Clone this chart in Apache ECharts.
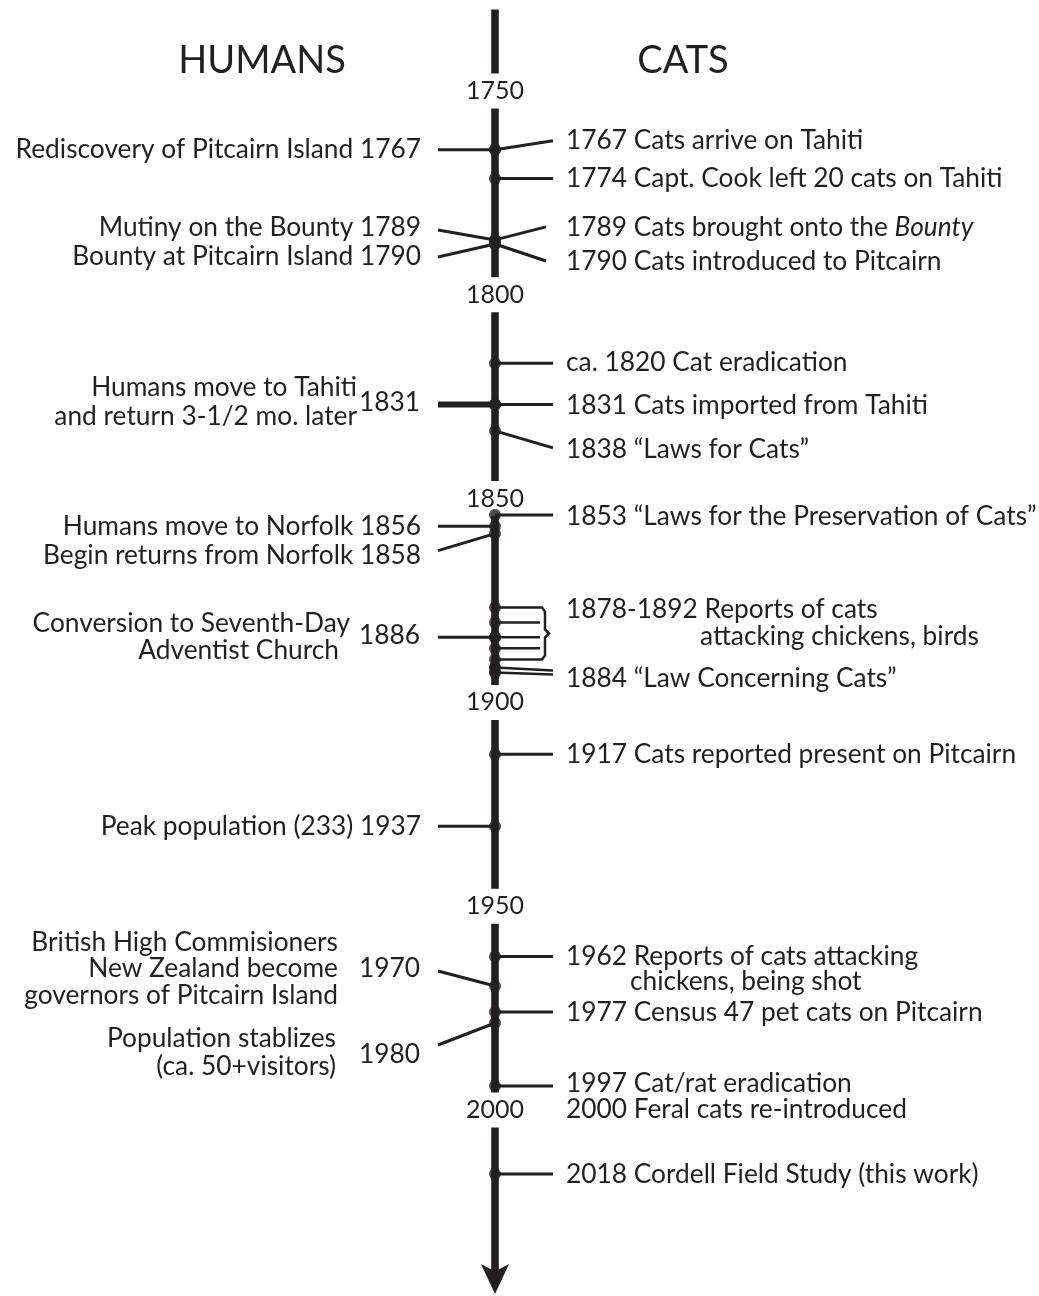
<!DOCTYPE html>
<html>
<head>
<meta charset="utf-8">
<script src="https://cdn.jsdelivr.net/npm/echarts@6/dist/echarts.min.js"></script>
<style>
  html, body { margin: 0; padding: 0; background: #fff; }
  #chart { width: 1039px; height: 1296px; }
</style>
</head>
<body>
<div id="chart"></div>
<script>
// 时间轴刻度
const decades = [1750, 1800, 1850, 1900, 1950, 2000]

// 左侧: 人类事件
const humanYears = [1767, 1789, 1790, 1831, 1856, 1858, 1886, 1937, 1970, 1980]
const humanEvents = [
    'Rediscovery of Pitcairn Island',
    'Mutiny on the Bounty',
    'Bounty at Pitcairn Island',
    'Humans move to Tahiti\nand return 3-1/2 mo. later',
    'Humans move to Norfolk',
    'Begin returns from Norfolk',
    'Conversion to Seventh-Day\nAdventist Church',
    'Peak population (233)',
    'British High Commisioners\nNew Zealand become\ngovernors of Pitcairn Island',
    'Population stablizes\n(ca. 50+visitors)'
]

// 右侧: 猫的事件
const catYears = [1767, 1774, 1789, 1790, 1820, 1831, 1838, 1853, 1917, 1962, 1977, 1997, 2000, 2018]
const catEvents = [
    '1767 Cats arrive on Tahiti',
    '1774 Capt. Cook left 20 cats on Tahiti',
    '1789 Cats brought onto the {i|Bounty}',
    '1790 Cats introduced to Pitcairn',
    'ca. 1820 Cat eradication',
    '1831 Cats imported from Tahiti',
    '1838 \u201cLaws for Cats\u201d',
    '1853 \u201cLaws for the Preservation of Cats\u201d',
    '1917 Cats reported present on Pitcairn',
    '1962 Reports of cats attacking\nchickens, being shot',
    '1977 Census 47 pet cats on Pitcairn',
    '1997 Cat/rat eradication',
    '2000 Feral cats re-introduced',
    '2018 Cordell Field Study (this work)'
]
// 1878-1892 的报告 (括号) 和 1884 的法律
const reportYears = [1878, 1882, 1886, 1889, 1892]
const reportEvent = '1878-1892 Reports of cats\nattacking chickens, birds'
const lawEvent = '1884 \u201cLaw Concerning Cats\u201d'

// ---------------- 版式 ----------------
const INK = '#231f20'
const FONT = 'Lato'
const FS = 26.3
const SPINE_X = 495

// 原图不是等比例的: 每 50 年一段, 每段一个 grid
const segments = [
    { from: 1750, to: 1800, top: 80, height: 205 },
    { from: 1800, to: 1850, top: 288, height: 188 },
    { from: 1850, to: 1900, top: 504, height: 185 },
    { from: 1900, to: 1950, top: 693, height: 180 },
    { from: 1950, to: 2000, top: 912, height: 185 },
    { from: 2000, to: 2040, top: 1110, height: 142.4 }
]

// 连线终点 / 文字 相对圆点的纵向偏移 (px)
const humanLayout = [
    { end: 0, text: 0 },
    { end: -10, text: -12 },
    { end: 13, text: 13 },
    { end: 0, text: -2, lines: [-17, 12], right: -138, thick: true },
    { end: 0, text: 0 },
    { end: 17, text: 22 },
    { end: 0, text: -2, lines: [-14, 13], right: [-145, -156] },
    { end: 0, text: 0 },
    { end: -15, text: -17, lines: [-43, -17, 10], right: -157 },
    { end: 22, text: 32, lines: [16, 44], right: -159 }
]
const catLayout = [
    { end: -9, text: -9 },
    { end: 0, text: 0 },
    { end: -13, text: -12, x: 51 },
    { end: 17, text: 18, x: 51 },
    { end: 0, text: -1 },
    { end: 0, text: 1 },
    { end: 17, text: 19 },
    { end: 0, text: 1 },
    { end: 0, text: 0 },
    { end: 0, text: 0, lines: [0, 25], indent: [0, 64] },
    { end: 0, text: 1 },
    { end: 0, text: -2 },
    { free: true, text: 0 },
    { end: 0, text: 0 }
]

function segIndex(year) {
    for (let i = 0; i < segments.length; i++) {
        if (year >= segments[i].from && year < segments[i].to) return i
    }
    return segments.length - 1
}

function text(x, y, s, align) {
    return {
        type: 'text', x: x, y: y,
        style: {
            text: s, fill: INK, fontFamily: FONT, fontSize: FS,
            align: align, verticalAlign: 'middle',
            textAlign: align, textVerticalAlign: 'middle',
            rich: { i: { fontStyle: 'italic', fontFamily: FONT, fontSize: FS, fill: INK } }
        }
    }
}
function line(x1, y1, x2, y2, w) {
    return { type: 'line', shape: { x1: x1, y1: y1, x2: x2, y2: y2 }, style: { stroke: INK, lineWidth: w } }
}
function dot(x, y) {
    return { type: 'circle', shape: { cx: x, cy: y, r: 6 }, style: { fill: INK } }
}

// 每段的条目
const segItems = segments.map(() => [])
const segDots = segments.map(() => [])
humanYears.forEach((y, i) => {
    segItems[segIndex(y)].push({ kind: 'human', year: y, text: humanEvents[i], layout: humanLayout[i] })
    segDots[segIndex(y)].push([0, y])
})
catYears.forEach((y, i) => {
    segItems[segIndex(y)].push({ kind: 'cat', year: y, text: catEvents[i], layout: catLayout[i] })
    if (!catLayout[i].free) segDots[segIndex(y)].push([0, y])
})
reportYears.forEach(y => segDots[segIndex(y)].push([0, y]))
segItems[segIndex(reportYears[0])].push({ kind: 'bracket', year: reportYears[0], layout: {} })

function makeRender(items) {
    return function (params, api) {
        const it = items[api.value(2)]
        const L = it.layout
        const xs = v => api.coord([v, it.year])[0]
        const p = api.coord([0, it.year])
        const sx = p[0], sy = p[1]
        const kids = []
        if (it.kind === 'human') {
            kids.push(line(sx, sy, xs(-57), sy + L.end, L.thick ? 6 : 3))
            if (L.lines) {
                kids.push(text(xs(-75), sy + L.text, String(it.year), 'right'))
                it.text.split('\n').forEach((s, i) => {
                    const r = Array.isArray(L.right) ? L.right[i] : L.right
                    kids.push(text(xs(r), sy + L.lines[i], s, 'right'))
                })
            } else {
                kids.push(text(xs(-74), sy + L.text, it.text + ' ' + it.year, 'right'))
            }
        } else if (it.kind === 'cat') {
            if (!L.free) kids.push(line(sx, sy, xs(L.x || 58), sy + L.end, 3))
            it.text.split('\n').forEach((s, i) => {
                const dy = L.lines ? L.lines[i] : L.text
                const ind = L.indent ? L.indent[i] : 0
                kids.push(text(xs(71 + ind), sy + dy, s, 'left'))
            })
        } else if (it.kind === 'bracket') {
            const ys = reportYears.map(y => api.coord([0, y])[1])
            const top = ys[0], bot = ys[ys.length - 1], mid = (top + bot) / 2
            const xb = xs(50), xt = xs(54)
            kids.push({
                type: 'polyline',
                shape: { points: [[sx, top], [xb - 3, top], [xb, top + 4], [xb, mid - 4], [xt, mid],
                    [xb, mid + 4], [xb, bot - 4], [xb - 3, bot], [sx, bot]] },
                style: { stroke: INK, lineWidth: 2.5, fill: 'none' }
            })
            ys.slice(1, -1).forEach(y => kids.push(line(sx, y, xs(45), y, 2.5)))
            // 1884 的法律: 两条线接在括号下方
            const l1 = bot + 8, l2 = bot + 13
            kids.push(dot(sx, l1), dot(sx, l2))
            kids.push(line(sx, l1, xs(58), bot + 11, 2.5), line(sx, l2, xs(58), bot + 15, 2.5))
            kids.push(text(xs(71), bot + 19, lawEvent, 'left'))
            const rl = reportEvent.split('\n')
            kids.push(text(xs(71), mid - 24, rl[0], 'left'))
            kids.push(text(xs(71 + 134), mid + 3, rl[1], 'left'))
        }
        return { type: 'group', children: kids }
    }
}

const grids = segments.map(s => ({ left: 0, right: 0, top: s.top, height: s.height }))
const xAxes = segments.map((s, i) => ({ gridIndex: i, type: 'value', min: -SPINE_X, max: 1039 - SPINE_X, show: false }))
const yAxes = segments.map((s, i) => ({ gridIndex: i, type: 'value', inverse: true, min: s.from, max: s.to, show: false }))

// 主轴: 竖线 + 箭头 + 年代标签 (1750 在 y=91, 2000 在 y=1110)
const M = segments.length
grids.push({ left: SPINE_X, width: 1, top: 9.5, bottom: 14 })
xAxes.push({ gridIndex: M, type: 'value', min: 0, max: 1, show: false })
yAxes.push({
    gridIndex: M, type: 'value', inverse: true, min: 1730, max: 2042.2,
    axisLine: {
        show: true, symbol: ['arrow', 'none'], symbolSize: [21, 30], symbolOffset: [-12, 0],
        lineStyle: { color: INK, width: 7.6, cap: 'butt' }
    },
    axisTick: { show: false },
    splitLine: { show: false },
    axisLabel: {
        customValues: decades, align: 'center', margin: 0, color: INK,
        formatter: v => String(v),
        fontFamily: FONT, fontSize: 25, lineHeight: 25, backgroundColor: '#fff', padding: [5, 3]
    }
})

const series = []
segments.forEach((s, i) => {
    series.push({
        type: 'custom', xAxisIndex: i, yAxisIndex: i, clip: false, silent: true, z: 3,
        data: segItems[i].map((it, k) => [0, it.year, k]),
        renderItem: makeRender(segItems[i])
    })
    series.push({
        type: 'scatter', xAxisIndex: i, yAxisIndex: i, clip: false, silent: true, z: 4,
        symbol: 'circle', symbolSize: 12, itemStyle: { color: INK },
        data: segDots[i]
    })
})

const chart = echarts.init(document.getElementById('chart'), null, { renderer: 'canvas' })
chart.setOption({
    animation: false,
    backgroundColor: '#fff',
    grid: grids,
    xAxis: xAxes,
    yAxis: yAxes,
    graphic: [
        { type: 'text', x: 262, y: 61, style: { text: 'HUMANS', fill: INK, fontFamily: FONT, fontSize: 38, textAlign: 'center', textVerticalAlign: 'middle', align: 'center', verticalAlign: 'middle' } },
        { type: 'text', x: 683, y: 61, style: { text: 'CATS', fill: INK, fontFamily: FONT, fontSize: 38, textAlign: 'center', textVerticalAlign: 'middle', align: 'center', verticalAlign: 'middle' } }
    ],
    series: series
})
</script>
</body>
</html>
